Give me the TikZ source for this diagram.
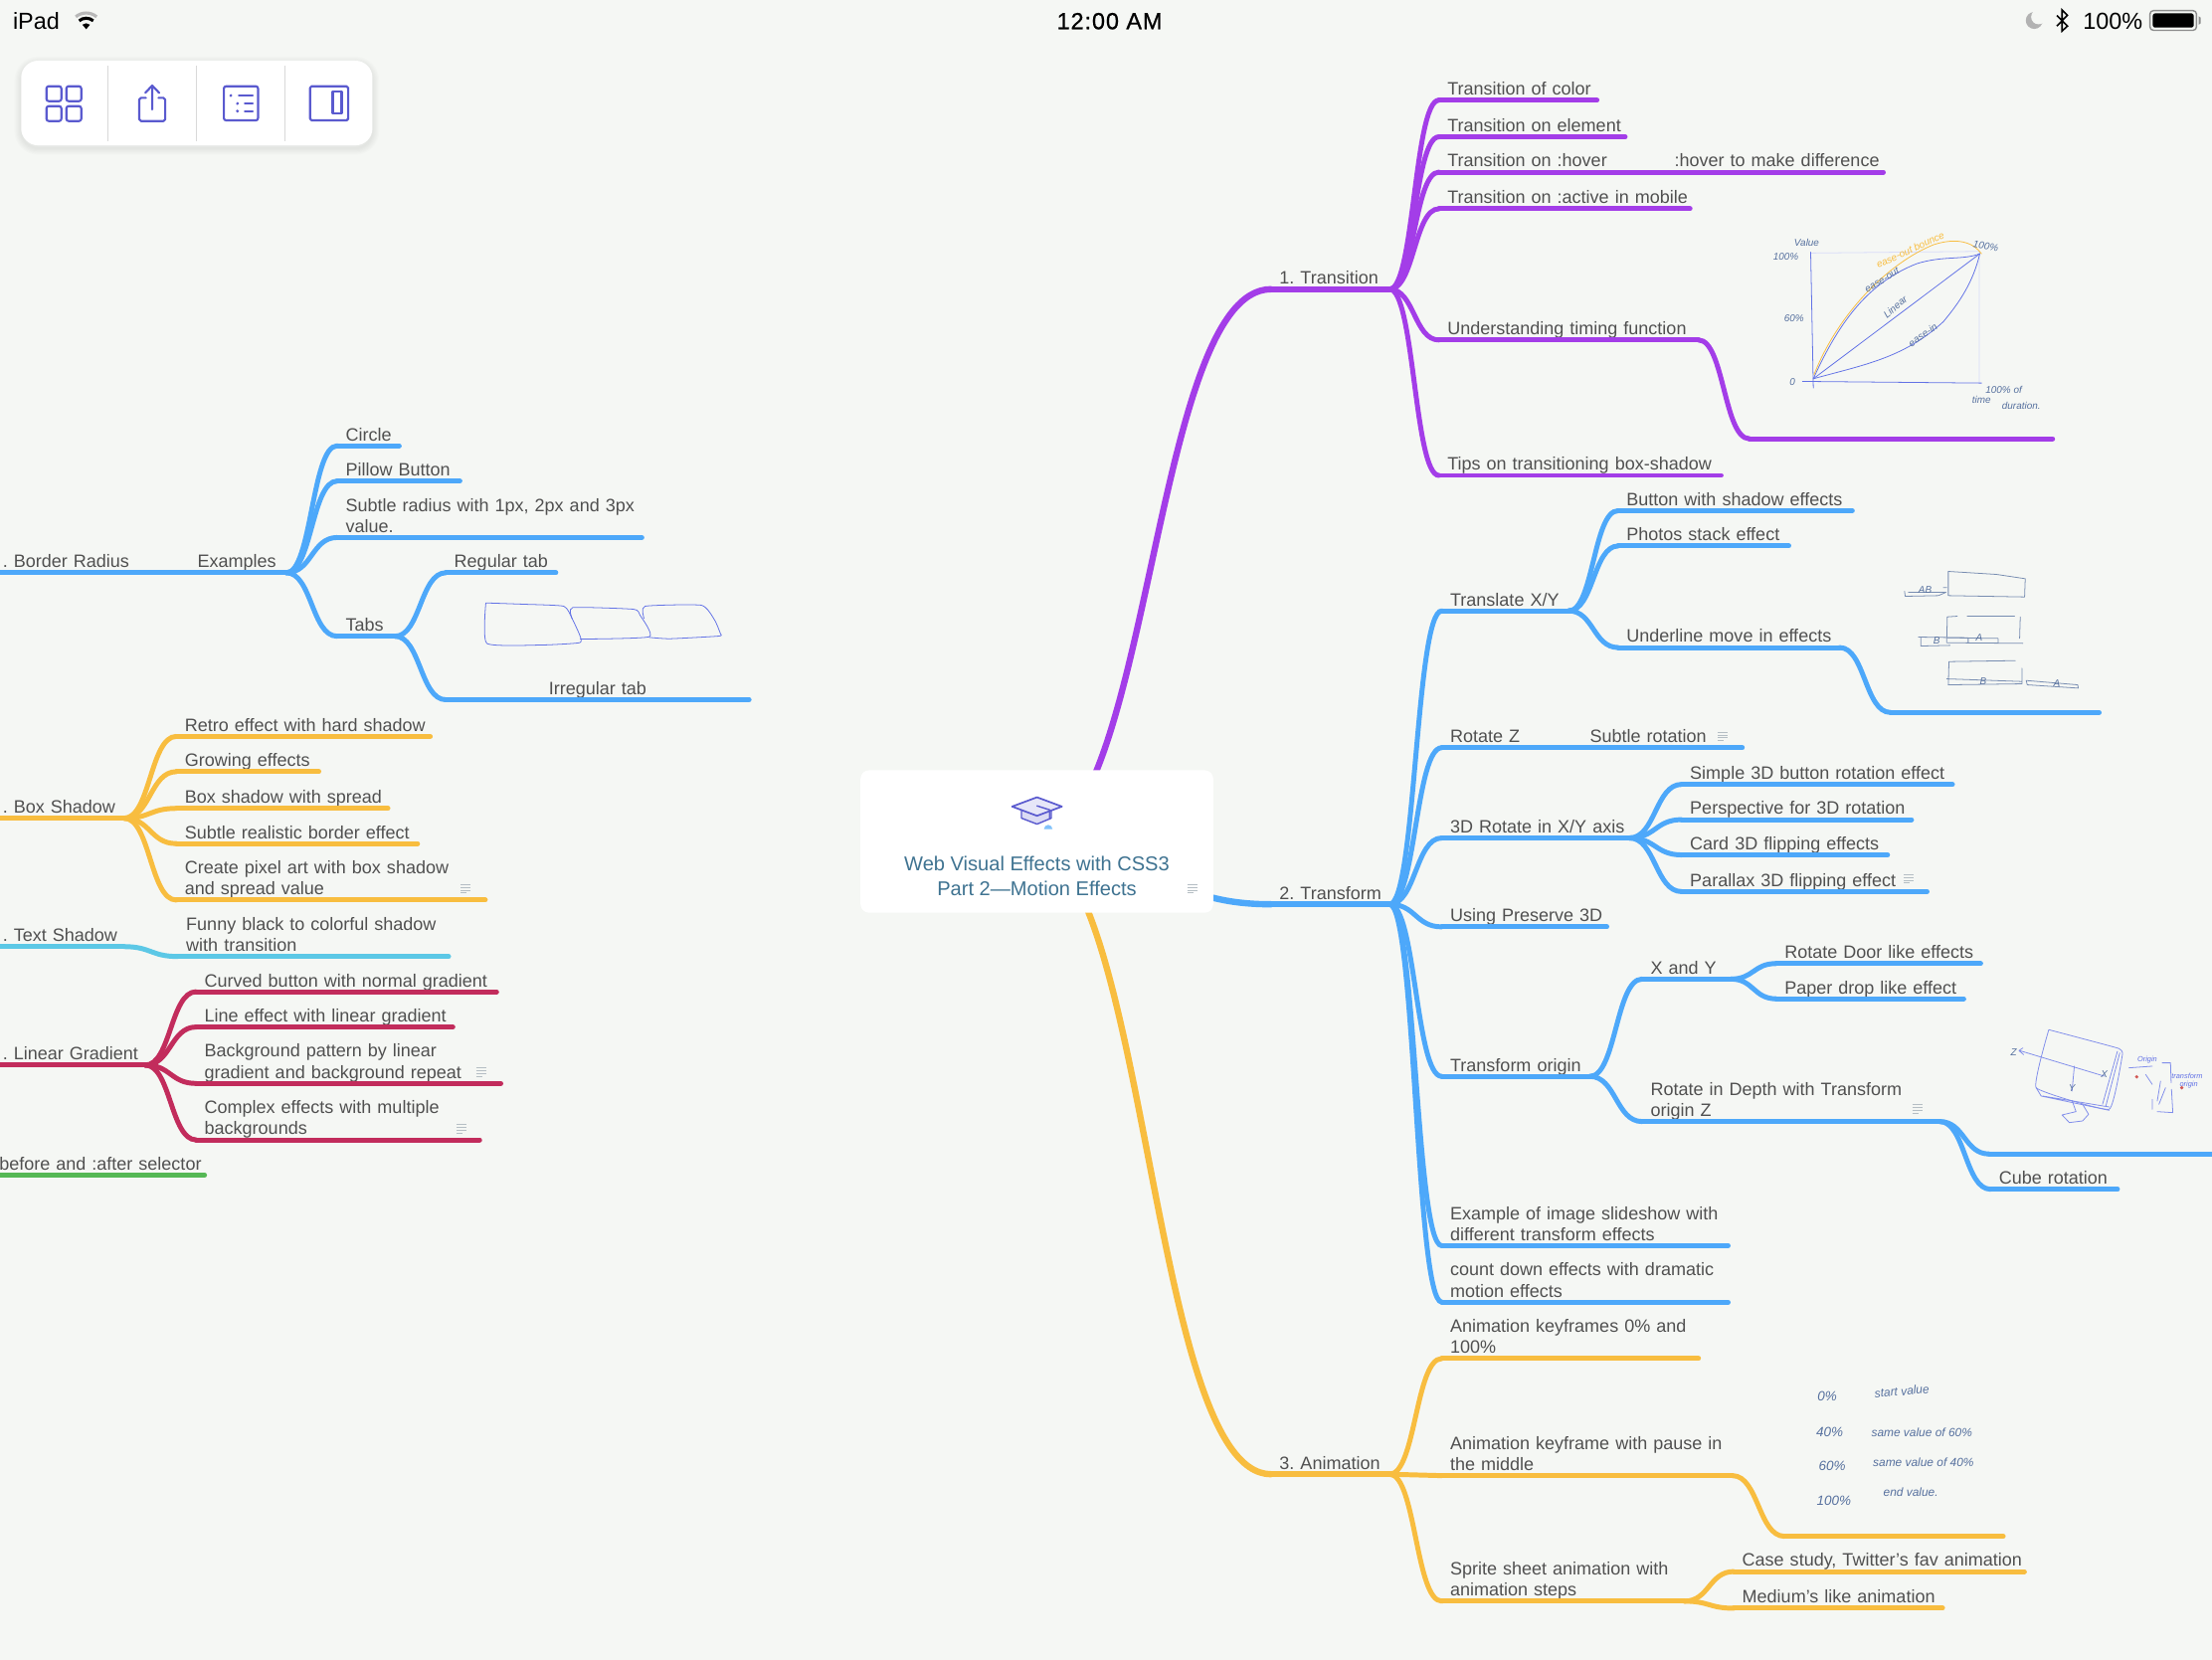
\documentclass[tikz,border=0pt]{standalone}
\usepackage{fontspec}
\setmainfont{Liberation Sans}
\usetikzlibrary{backgrounds,calc}

\definecolor{pagebg}{HTML}{F5F7F4}
\definecolor{purpc}{HTML}{A33DE8}
\definecolor{bluec}{HTML}{4DA8FA}
\definecolor{yelc}{HTML}{F8BD3F}
\definecolor{cyanc}{HTML}{5CC8E6}
\definecolor{redc}{HTML}{C22C5C}
\definecolor{grnc}{HTML}{55B855}
\definecolor{labelc}{HTML}{505050}
\definecolor{rootc}{HTML}{3F7391}
\definecolor{toolc}{HTML}{5A5ACF}
\definecolor{penc}{HTML}{6272E6}
\definecolor{inkc}{HTML}{56709E}
\definecolor{notec}{HTML}{B5BEC4}

\newcommand{\lblfont}{\fontsize{12.7}{15}\selectfont}
\newcommand{\barfont}{\fontsize{16.5}{18}\selectfont}
\newcommand{\lblstrut}{\rule[-3.6pt]{0pt}{11pt}}

\tikzset{
  leaf/.style={anchor=south west,inner xsep=6pt,inner ysep=0pt,outer sep=0pt,
    text width=#1pt-12pt,font=\lblfont,text=labelc,
    execute at begin node={\frenchspacing\rightskip=0pt plus 1fil minus 1000pt\parfillskip=0pt plus 1fil\relax},
    execute at end node=\lblstrut},
  branch/.style={to path={let \p1=(\tikztostart),\p2=(\tikztotarget),\n1={0.5*(\x1+\x2)}
    in .. controls (\n1,\y1) and (\n1,\y2) .. (\tikztotarget)}},
  wire/.style={draw=#1,line width=3.5pt,line cap=round},
  mainwire/.style={draw=#1,line width=4.5pt,line cap=round},
  zoomed/.style 2 args={shift={(#1/1.418,#2/1.418)},x=0.2351pt,y=-0.2351pt},
  pen/.style={draw=#1,line width=.55pt,line join=round,line cap=round},
  hand/.style={font=\fontsize{7}{8}\selectfont\itshape,text=inkc,inner sep=0pt},
  bighand/.style={hand,font=\fontsize{9.5}{10}\selectfont\itshape},
  midhand/.style={hand,font=\fontsize{8.4}{9}\selectfont\itshape},
  tinyhand/.style={hand,font=\fontsize{5.2}{6}\selectfont\itshape,text=penc},
  tool/.style={draw=toolc,line width=1.5pt,line join=round,line cap=round},
  notemark/.pic={
    \draw[notec,line width=.6pt] (-3.5,-3) -- (3.5,-3) (-3.5,-1) -- (3.5,-1)
      (-3.5,1) -- (3.5,1) (-3.5,3) -- (1,3);
  }
}

\begin{document}
\begin{tikzpicture}[x=1pt,y=-1pt]
  \useasboundingbox (0,0) rectangle (1568,1176);

  % centre
  \node[draw=none,fill=white,rounded corners=6pt,minimum width=250pt,minimum height=101pt,inner sep=0pt] (root) at (735,596.5) {};
  \node[font=\fontsize{14.15}{18}\selectfont,text=rootc,align=center,inner sep=0pt] (title) at (735,621) {Web Visual Effects with CSS3\\Part 2—Motion Effects};
  \pic at (845,630) {notemark};
  \begin{scope}[zoomed={840}{760}]
    \draw[tool,line width=1pt,fill=toolc!22] (560,165) -- (560,187) -- (607,205) -- (650,187) -- (650,165);
    \draw[tool,line width=1.2pt,fill=toolc!15] (532,152) -- (607,124) -- (682,152) -- (607,180) -- cycle;
    \draw[tool,line width=1pt] (607,150) -- (645,162) -- (645,190);
    \fill[bluec!70] (628,220) arc[start angle=180,end angle=0,radius=3pt] -- cycle;
  \end{scope}

  % 1. Transition
  \node[leaf=84]  (tra)  at (901,205)  {1. Transition};
  \node[leaf=112] (tra1) at (1020,71)  {Transition of color};
  \node[leaf=132] (tra2) at (1020,97)  {Transition on element};
  \node[leaf=116] (tra3) at (1020,122) {Transition on :hover};
  \node[leaf=154] (tra3a) at (1181,122) {:hover to make difference};
  \node[leaf=178] (tra4) at (1020,148) {Transition on :active in mobile};
  \node[leaf=184] (tra5) at (1020,241) {Understanding timing function};
  \node[leaf=215] (tra5a) at (1240,311) {};
  \node[leaf=200] (tra6) at (1020,337) {Tips on transitioning box-shadow};

  % 2. Transform
  \node[leaf=84]  (trf)  at (901,641)  {2. Transform};
  \node[leaf=90]  (trf1) at (1022,433) {Translate X/Y};
  \node[leaf=166] (trf1a) at (1147,362) {Button with shadow effects};
  \node[leaf=121] (trf1b) at (1147,387) {Photos stack effect};
  \node[leaf=157] (trf1c) at (1147,459) {Underline move in effects};
  \node[leaf=148] (trf1d) at (1340,505) {};
  \node[leaf=61]  (trf2) at (1022,530) {Rotate Z};
  \node[leaf=114] (trf2a) at (1121,530) {Subtle rotation};
  \node[leaf=133] (trf3) at (1022,594) {3D Rotate in X/Y axis};
  \node[leaf=192] (trf3a) at (1192,556) {Simple 3D button rotation effect};
  \node[leaf=163] (trf3b) at (1192,581) {Perspective for 3D rotation};
  \node[leaf=146] (trf3c) at (1192,606) {Card 3D flipping effects};
  \node[leaf=174] (trf3d) at (1192,632) {Parallax 3D flipping effect};
  \node[leaf=117] (trf4) at (1022,657) {Using Preserve 3D};
  \node[leaf=105] (trf5) at (1022,763) {Transform origin};
  \node[leaf=63]  (trf5a) at (1164,694) {X and Y};
  \node[leaf=145] (trf5a1) at (1259,683) {Rotate Door like effects};
  \node[leaf=133] (trf5a2) at (1259,708) {Paper drop like effect};
  \node[leaf=211] (trf5b) at (1164,795) {Rotate in Depth with Transform\\origin Z};
  \node[leaf=170] (trf5b1) at (1410,818) {};
  \node[leaf=90]  (trf5b2) at (1411,843) {Cube rotation};
  \node[leaf=203] (trf6) at (1022,883) {Example of image slideshow with\\different transform effects};
  \node[leaf=203] (trf7) at (1022,923) {count down effects with dramatic\\motion effects};

  % 3. Animation
  \node[leaf=84]  (ani)  at (901,1045) {3. Animation};
  \node[leaf=182] (ani1) at (1022,963) {Animation keyframes 0\% and\\100\%};
  \node[leaf=206] (ani2) at (1022,1046) {Animation keyframe with pause in\\the middle};
  \node[leaf=155] (ani2a) at (1265,1089) {};
  \node[leaf=172] (ani3) at (1022,1135) {Sprite sheet animation with\\animation steps};
  \node[leaf=206] (ani3a) at (1229,1114) {Case study, Twitter's fav animation};
  \node[leaf=148] (ani3b) at (1229,1140) {Medium's like animation};

  % left side, cut by the page edge
  \node[leaf=99]  (bor)  at (-4,406)  {. Border Radius};
  \node[leaf=69]  (bor1) at (134,406) {Examples};
  \node[leaf=44]  (bor1a) at (239,316) {Circle};
  \node[leaf=87]  (bor1b) at (239,341) {Pillow Button};
  \node[leaf=216] (bor1c) at (239,381) {Subtle radius with 1px, 2px and 3px\\value.};
  \node[leaf=41]  (bor1d) at (239,451) {Tabs};
  \node[leaf=78]  (bor2a) at (316,406) {Regular tab};
  \node[leaf=215] (bor2b) at (316,496) {\hspace*{67pt}Irregular tab};

  \node[leaf=92]  (box)  at (-4,580)  {. Box Shadow};
  \node[leaf=180] (box1) at (125,522) {Retro effect with hard shadow};
  \node[leaf=101] (box2) at (125,547) {Growing effects};
  \node[leaf=150] (box3) at (125,573) {Box shadow with spread};
  \node[leaf=171] (box4) at (125,598) {Subtle realistic border effect};
  \node[leaf=219] (box5) at (125,638) {Create pixel art with box shadow\\and spread value};

  \node[leaf=92]  (txt)  at (-4,671)  {. Text Shadow};
  \node[leaf=192] (txt1) at (126,678) {Funny black to colorful shadow\\with transition};

  \node[leaf=107] (lin)  at (-4,755)  {. Linear Gradient};
  \node[leaf=213] (lin1) at (139,703) {Curved button with normal gradient};
  \node[leaf=182] (lin2) at (139,728) {Line effect with linear gradient};
  \node[leaf=216] (lin3) at (139,768) {Background pattern by linear\\gradient and background repeat};
  \node[leaf=201] (lin4) at (139,808) {Complex effects with multiple\\backgrounds};

  \node[leaf=151.5] (sel) at (-6.5,833) {before and :after selector};

  \pic at (1221,522) {notemark};
  \pic at (1353,623) {notemark};
  \pic at (1359,786) {notemark};
  \pic at (330,630) {notemark};
  \pic at (341,760) {notemark};
  \pic at (327,800) {notemark};

  % connectors, under the centre
  \begin{scope}[on background layer]
    \fill[pagebg] (-2,-2) rectangle (1570,1178);
    \foreach \s in {1,...,6}
      \draw[black,opacity=.012,line width=\s*1.6pt,rounded corners=12pt] (15,45) rectangle (264,105);
    \path[mainwire=purpc] ([xshift=-4pt]root.center) edge[branch] (tra.south west);
    \path[mainwire=bluec] (root.center) edge[branch] (trf.south west);
    \path[mainwire=yelc]  ([xshift=-8pt]root.center) edge[branch] (ani.south west);
  \end{scope}

  \draw[mainwire=purpc] (tra.south west) -- (tra.south east);
  \draw[mainwire=bluec] (trf.south west) -- (trf.south east);
  \draw[mainwire=yelc] (ani.south west) -- (ani.south east);

  \foreach \n in {tra1,tra2,tra3,tra3a,tra4,tra5,tra5a,tra6}
    \draw[wire=purpc] (\n.south west) -- (\n.south east);
  \foreach \n in {trf1,trf1a,trf1b,trf1c,trf1d,trf2,trf2a,trf3,trf3a,trf3b,trf3c,trf3d,trf4,trf5,trf5a,trf5a1,trf5a2,trf5b,trf5b1,trf5b2,trf6,trf7,bor,bor1,bor1a,bor1b,bor1c,bor1d,bor2a,bor2b}
    \draw[wire=bluec] (\n.south west) -- (\n.south east);
  \foreach \n in {ani1,ani2,ani2a,ani3,ani3a,ani3b,box,box1,box2,box3,box4,box5}
    \draw[wire=yelc] (\n.south west) -- (\n.south east);
  \foreach \n in {txt,txt1}
    \draw[wire=cyanc] (\n.south west) -- (\n.south east);
  \foreach \n in {lin,lin1,lin2,lin3,lin4}
    \draw[wire=redc] (\n.south west) -- (\n.south east);
  \draw[wire=grnc] (sel.south west) -- (sel.south east);

  \path[wire=purpc] (tra.south east) edge[branch] (tra1.south west)
                                     edge[branch] (tra2.south west)
                                     edge[branch] (tra3.south west)
                                     edge[branch] (tra4.south west)
                                     edge[branch] (tra5.south west)
                                     edge[branch] (tra6.south west)
                    (tra3.south east) edge[branch] (tra3a.south west)
                    (tra5.south east) edge[branch] (tra5a.south west);

  \path[wire=bluec] (trf.south east) edge[branch] (trf1.south west)
                                     edge[branch] (trf2.south west)
                                     edge[branch] (trf3.south west)
                                     edge[branch] (trf4.south west)
                                     edge[branch] (trf5.south west)
                                     edge[branch] (trf6.south west)
                                     edge[branch] (trf7.south west)
                    (trf1.south east) edge[branch] (trf1a.south west)
                                      edge[branch] (trf1b.south west)
                                      edge[branch] (trf1c.south west)
                    (trf1c.south east) edge[branch] (trf1d.south west)
                    (trf2.south east) edge[branch] (trf2a.south west)
                    (trf3.south east) edge[branch] (trf3a.south west)
                                      edge[branch] (trf3b.south west)
                                      edge[branch] (trf3c.south west)
                                      edge[branch] (trf3d.south west)
                    (trf5.south east) edge[branch] (trf5a.south west)
                                      edge[branch] (trf5b.south west)
                    (trf5a.south east) edge[branch] (trf5a1.south west)
                                       edge[branch] (trf5a2.south west)
                    (trf5b.south east) edge[branch] (trf5b1.south west)
                                       edge[branch] (trf5b2.south west)
                    (bor.south east) edge[branch] (bor1.south west)
                    (bor1.south east) edge[branch] (bor1a.south west)
                                      edge[branch] (bor1b.south west)
                                      edge[branch] (bor1c.south west)
                                      edge[branch] (bor1d.south west)
                    (bor1d.south east) edge[branch] (bor2a.south west)
                                       edge[branch] (bor2b.south west);

  \path[wire=yelc] (ani.south east) edge[branch] (ani1.south west)
                                    edge[branch] (ani2.south west)
                                    edge[branch] (ani3.south west)
                   (ani2.south east) edge[branch] (ani2a.south west)
                   (ani3.south east) edge[branch] (ani3a.south west)
                                     edge[branch] (ani3b.south west)
                   (box.south east) edge[branch] (box1.south west)
                                    edge[branch] (box2.south west)
                                    edge[branch] (box3.south west)
                                    edge[branch] (box4.south west)
                                    edge[branch] (box5.south west);

  \path[wire=cyanc] (txt.south east) edge[branch] (txt1.south west);

  \path[wire=redc] (lin.south east) edge[branch] (lin1.south west)
                                    edge[branch] (lin2.south west)
                                    edge[branch] (lin3.south west)
                                    edge[branch] (lin4.south west);

  % sketch: timing curves
  \begin{scope}[zoomed={1740}{220}]
    \draw[pen=penc!25] (240,103) -- (750,98) (748,100) -- (748,495);
    \draw[pen=penc] (240,100) -- (248,510) (215,490) -- (755,495);
    \draw[pen=penc] (248,482) -- (750,105);
    \draw[pen=penc] (248,482) .. controls (330,300) and (420,190) .. (560,135) .. controls (640,110) and (700,125) .. (750,105);
    \draw[pen=yelc] (250,470) .. controls (320,290) and (470,135) .. (610,78) .. controls (680,55) and (730,70) .. (755,105);
    \draw[pen=penc] (248,482) .. controls (400,440) and (520,420) .. (640,310) .. controls (690,250) and (730,190) .. (750,105);
    \node[hand] (val) at (228,72) {Value};
    \node[hand] (top) at (165,113) {100\%};
    \node[hand] (six) at (190,300) {60\%};
    \node[hand] (zer) at (185,492) {0};
    \node[hand,rotate=-10] (end) at (768,83) {100\%};
    \node[hand,rotate=25,text=yelc] (bou) at (540,93) {ease-out bounce};
    \node[hand,rotate=32] (eou) at (455,185) {ease-out};
    \node[hand,rotate=40] (lnr) at (495,265) {Linear};
    \node[hand,rotate=35] (ein) at (578,350) {ease-in};
    \node[hand] (pct) at (822,515) {100\% of};
    \node[hand] (tim) at (755,545) {time};
    \node[hand] (dur) at (875,563) {duration.};
  \end{scope}

  % sketch: tabs
  \begin{scope}[zoomed={460}{580}]
    \draw[pen=penc] plot[smooth,tension=.3] coordinates {(85,78) (200,82) (320,88) (345,125) (368,175) (368,198) (250,205) (88,200) (85,78)};
    \draw[pen=penc] plot[smooth,tension=.3] coordinates {(345,125) (347,92) (530,97) (550,115) (578,180) (370,187)};
    \draw[pen=penc] plot[smooth,tension=.3] coordinates {(562,125) (565,88) (735,85) (775,130) (792,170) (788,178) (640,186) (578,182)};
  \end{scope}

  % sketch: underline move
  \begin{scope}[zoomed={1880}{560},every path/.append style={pen=inkc!80}]
    \draw (235,43) -- (235,116) -- (465,120) -- (467,65) -- (380,52) -- cycle;
    \draw (103,103) -- (105,118) -- (205,116) -- (228,106) -- (115,106) (220,92) -- (230,92);
    \draw (232,180) -- (230,258) (232,180) -- (262,178) (292,178) -- (435,178) (452,180) -- (450,245);
    \draw (145,241) -- (295,243) -- (295,258) (152,241) -- (152,268) -- (240,266);
    \draw (232,258) -- (460,260) (232,243) -- (385,245) -- (385,258);
    \draw (237,315) -- (437,312) (237,315) -- (235,385) -- (457,382) -- (457,335) (230,367) -- (457,375);
    \draw (470,372) -- (625,385) -- (627,395) -- (473,385) -- cycle;
  \end{scope}
  \begin{scope}[zoomed={1880}{560}]
    \node[hand] (ua) at (165,100) {AB};
    \node[hand] (ub) at (200,252) {B};
    \node[hand] (uc) at (328,243) {A};
    \node[hand] (ud) at (340,375) {B};
    \node[hand] (ue) at (562,380) {A};
  \end{scope}

  % sketch: cube in depth
  \begin{scope}[zoomed={2000}{1030}]
    \draw[pen=penc!80] plot[smooth,tension=.2] coordinates {(178,15) (310,50) (390,72) (400,90) (360,255) (140,190) (178,15)};
    \draw[pen=penc!80] (385,80) -- (340,240) (392,85) -- (350,245) (140,190) -- (155,215) -- (360,258) (160,215) -- (360,248);
    \draw[pen=penc!80] (90,78) -- (345,155) (100,70) -- (88,78) -- (102,90) (255,125) -- (248,200);
    \draw[pen=penc!80] (248,228) -- (260,262) -- (218,272) -- (240,295) -- (280,290) -- (298,270) -- (280,240);
    \draw[pen=penc!80] (520,115) -- (545,115) -- (547,175) (515,170) -- (505,230) (548,195) -- (552,265) -- (505,262);
    \draw[pen=penc!80] (490,225) -- (490,255) (530,190) -- (510,240) (420,130) -- (490,125) (470,150) -- (490,180);
    \node[hand] (za) at (72,82) {Z};
    \node[hand] (zb) at (345,150) {X};
    \node[hand] (zc) at (248,190) {Y};
    \node[tinyhand] (zd) at (475,105) {Origin};
    \node[tinyhand] (ze) at (595,155) {transform};
    \node[tinyhand] (zf) at (600,182) {origin};
    \fill[redc!70!yelc] (443,157) circle (1.3pt) (579,190) circle (1.3pt);
  \end{scope}

  % sketch: keyframes
  \begin{scope}[zoomed={1800}{1380}]
    \node[bighand] (k0) at (110,70) {0\%};
    \node[midhand,rotate=5] (k0a) at (335,55) {start value};
    \node[bighand] (k1) at (117,178) {40\%};
    \node[midhand] (k1a) at (395,180) {same value of 60\%};
    \node[bighand] (k2) at (125,280) {60\%};
    \node[midhand] (k2a) at (400,268) {same value of 40\%};
    \node[bighand] (k3) at (130,385) {100\%};
    \node[midhand] (k3a) at (362,360) {end value.};
  \end{scope}

  % status bar
  \node[font=\barfont,text=black,anchor=west,inner sep=0pt] (ipad) at (9,15) {iPad};
  \node[font=\barfont\addfontfeature{FakeBold=0.8,LetterSpace=4},text=black,inner sep=0pt] (clock) at (786.5,15) {12:00 AM};
  \node[font=\barfont,text=black,anchor=east,inner sep=0pt] (batt) at (1519,15) {100\%};
  \begin{scope}[shift={(61.1,20.7)},y=1pt]
    \draw[black!28,line width=2.2pt] (50:11.5pt) arc[start angle=50,end angle=130,radius=11.5pt];
    \draw[black,line width=2.2pt] (50:7.8pt) arc[start angle=50,end angle=130,radius=7.8pt];
    \fill[black] (0,0) -- (50:4.2pt) arc[start angle=50,end angle=130,radius=4.2pt] -- cycle;
  \end{scope}
  \fill[black!30] (1442,14.5) circle (6pt);
  \fill[pagebg] (1445,12) circle (5.2pt);
  \draw[black,line width=1.1pt,line join=miter] (1458,11) -- (1465.5,18.5) -- (1461.7,22) -- (1461.7,7) -- (1465.5,10.8) -- (1458,18.5);
  \draw[black!45,line width=1pt,rounded corners=2.5pt] (1524,7.5) rectangle (1557,21.5);
  \fill[black,rounded corners=1.5pt] (1526,9.5) rectangle (1555,19.5);
  \fill[black!45] (1558.5,11.5) -- (1560,12.5) -- (1560,16.5) -- (1558.5,17.5) -- cycle;

  % toolbar
  \node[fill=white,rounded corners=12pt,minimum width=249pt,minimum height=60pt,inner sep=0pt] (toolbar) at (139.5,73) {};
  \begin{scope}[zoomed={0}{0}]
    \draw[black!15,line width=.6pt] (325,198) -- (325,425) (593,198) -- (593,425) (860,198) -- (860,425);
    \foreach \x in {140,200}
      \foreach \y in {260,320}
        \draw[tool,rounded corners=1.6pt] (\x,\y) rectangle +(45,45);
    \draw[tool,rounded corners=1.2pt] (440,295) -- (420,295) -- (420,365) -- (498,365) -- (498,295) -- (478,295);
    \draw[tool] (459,330) -- (459,258) (438,280) -- (459,258) -- (480,280);
    \draw[tool,rounded corners=1.6pt] (675,260) rectangle (778,363);
    \draw[tool] (720,288) -- (762,288) (738,312) -- (762,312) (738,335) -- (762,335);
    \fill[toolc] (696,288) circle (1.1pt) (716,312) circle (1.1pt) (716,335) circle (1.1pt);
    \draw[tool,rounded corners=1.2pt] (935,260) rectangle (1050,363);
    \draw[tool] (1003,275) rectangle (1030,343);
  \end{scope}
\end{tikzpicture}
\end{document}
